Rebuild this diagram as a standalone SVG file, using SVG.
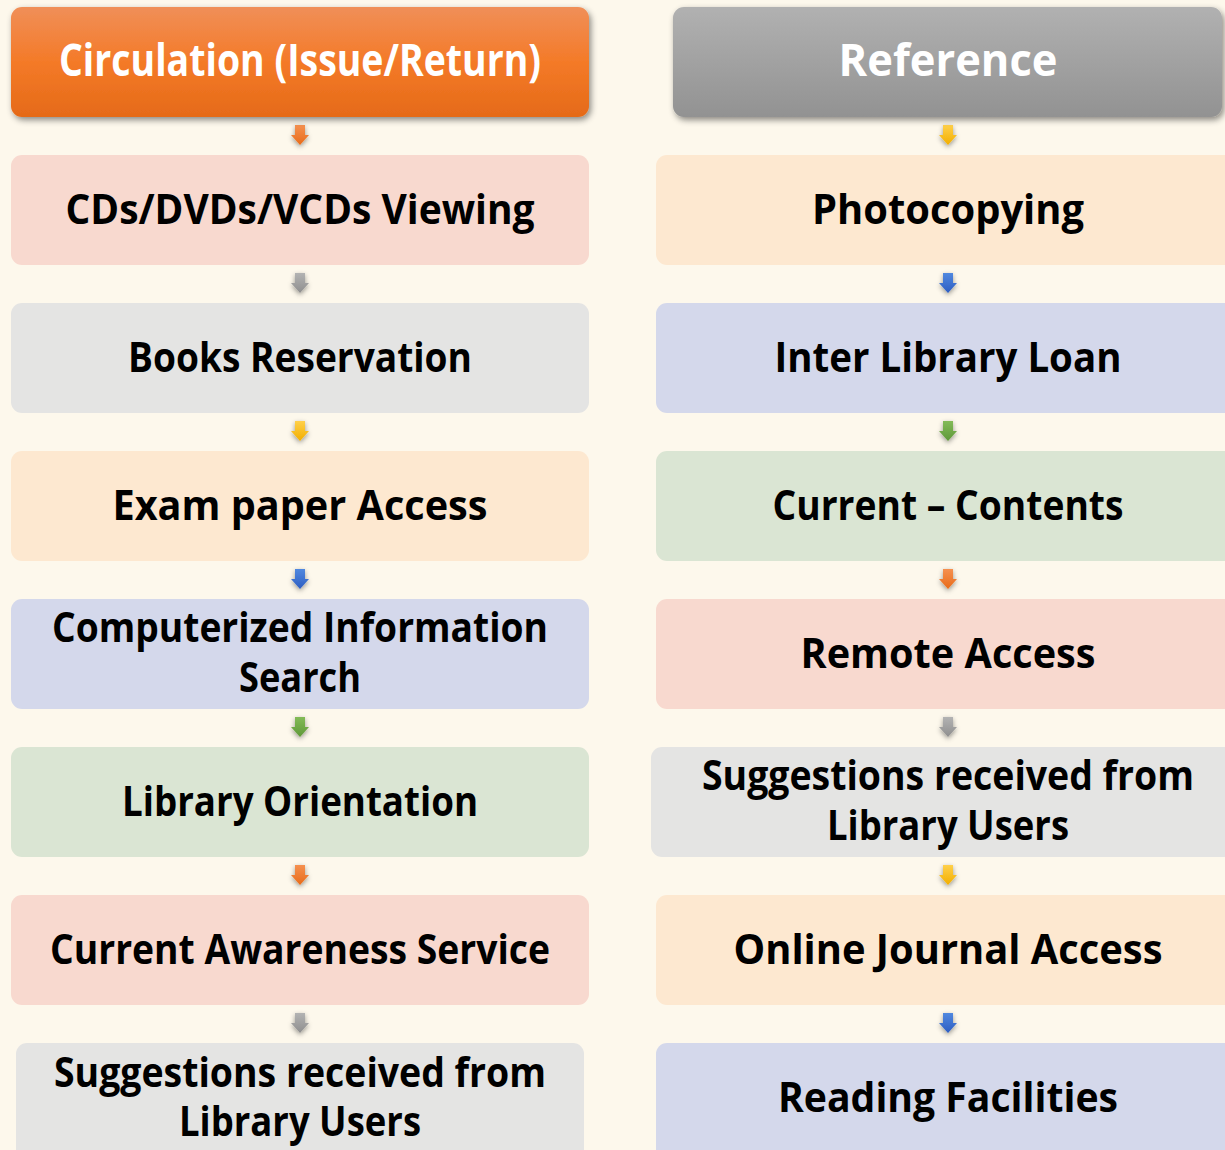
<svg xmlns="http://www.w3.org/2000/svg" width="1225" height="1150" viewBox="0 0 1225 1150">
<defs>
<linearGradient id="gOrange" x1="0" y1="0" x2="0" y2="1"><stop offset="0" stop-color="#F08F58"/><stop offset="0.5" stop-color="#F47A28"/><stop offset="1" stop-color="#E56A18"/></linearGradient>
<linearGradient id="gGrey" x1="0" y1="0" x2="0" y2="1"><stop offset="0" stop-color="#B1B1B1"/><stop offset="1" stop-color="#929292"/></linearGradient>
<linearGradient id="aOrange" x1="0" y1="0" x2="0" y2="1"><stop offset="0" stop-color="#F5904F"/><stop offset="1" stop-color="#E86B1A"/></linearGradient>
<linearGradient id="aGrey" x1="0" y1="0" x2="0" y2="1"><stop offset="0" stop-color="#B3B3B3"/><stop offset="1" stop-color="#8E8E8E"/></linearGradient>
<linearGradient id="aGold" x1="0" y1="0" x2="0" y2="1"><stop offset="0" stop-color="#FFD04A"/><stop offset="1" stop-color="#F2AE00"/></linearGradient>
<linearGradient id="aBlue" x1="0" y1="0" x2="0" y2="1"><stop offset="0" stop-color="#5088DF"/><stop offset="1" stop-color="#2C5DC2"/></linearGradient>
<linearGradient id="aGreen" x1="0" y1="0" x2="0" y2="1"><stop offset="0" stop-color="#83BB58"/><stop offset="1" stop-color="#5E9838"/></linearGradient>
<filter id="sh" x="-10%" y="-20%" width="125%" height="150%"><feDropShadow dx="2" dy="3" stdDeviation="3" flood-color="#000" flood-opacity="0.45"/></filter>
<filter id="ash" x="-100%" y="-50%" width="300%" height="220%"><feDropShadow dx="0" dy="2" stdDeviation="2.5" flood-color="#000" flood-opacity="0.4"/></filter>
<path id="arr" d="M-5,0 H5 V10 H9 L0,20 L-9,10 H-5 Z"/>
</defs>
<style>
.t{font-family:"Open Sans","Noto Sans","DejaVu Sans",sans-serif;font-weight:bold;font-size:41px;fill:#000;text-anchor:middle}
.h{font-family:"Open Sans","Noto Sans","DejaVu Sans",sans-serif;font-weight:bold;font-size:45px;fill:#fff;text-anchor:middle}
.pink{fill:#F8D9CF}.grey{fill:#E4E4E3}.peach{fill:#FDE8D0}.lav{fill:#D4D8EB}.green{fill:#DAE5D3}
</style>
<rect width="1225" height="1150" fill="#FDF8EC"/>

<g id="connectors">
<use href="#arr" x="300" y="125" fill="url(#aOrange)" filter="url(#ash)"/>
<use href="#arr" x="300" y="273" fill="url(#aGrey)" filter="url(#ash)"/>
<use href="#arr" x="300" y="421" fill="url(#aGold)" filter="url(#ash)"/>
<use href="#arr" x="300" y="569" fill="url(#aBlue)" filter="url(#ash)"/>
<use href="#arr" x="300" y="717" fill="url(#aGreen)" filter="url(#ash)"/>
<use href="#arr" x="300" y="865" fill="url(#aOrange)" filter="url(#ash)"/>
<use href="#arr" x="300" y="1013" fill="url(#aGrey)" filter="url(#ash)"/>
<use href="#arr" x="948" y="125" fill="url(#aGold)" filter="url(#ash)"/>
<use href="#arr" x="948" y="273" fill="url(#aBlue)" filter="url(#ash)"/>
<use href="#arr" x="948" y="421" fill="url(#aGreen)" filter="url(#ash)"/>
<use href="#arr" x="948" y="569" fill="url(#aOrange)" filter="url(#ash)"/>
<use href="#arr" x="948" y="717" fill="url(#aGrey)" filter="url(#ash)"/>
<use href="#arr" x="948" y="865" fill="url(#aGold)" filter="url(#ash)"/>
<use href="#arr" x="948" y="1013" fill="url(#aBlue)" filter="url(#ash)"/>
</g>

<g id="circulation">
<rect x="11" y="7" width="578" height="110" rx="11" fill="url(#gOrange)" filter="url(#sh)"/>
<text class="h" x="300" y="76" textLength="482" lengthAdjust="spacingAndGlyphs">Circulation (Issue/Return)</text>
</g>
<g id="cds">
<rect class="pink" x="11" y="155" width="578" height="110" rx="11"/>
<text class="t" x="300" y="224" textLength="469" lengthAdjust="spacingAndGlyphs">CDs/DVDs/VCDs Viewing</text>
</g>
<g id="books-reservation">
<rect class="grey" x="11" y="303" width="578" height="110" rx="11"/>
<text class="t" x="300" y="372" textLength="344" lengthAdjust="spacingAndGlyphs">Books Reservation</text>
</g>
<g id="exam-paper">
<rect class="peach" x="11" y="451" width="578" height="110" rx="11"/>
<text class="t" x="300" y="520" textLength="375" lengthAdjust="spacingAndGlyphs">Exam paper Access</text>
</g>
<g id="computerized">
<rect class="lav" x="11" y="599" width="578" height="110" rx="11"/>
<text class="t" x="300" y="642" textLength="496" lengthAdjust="spacingAndGlyphs">Computerized Information</text>
<text class="t" x="300" y="692" textLength="122" lengthAdjust="spacingAndGlyphs">Search</text>
</g>
<g id="orientation">
<rect class="green" x="11" y="747" width="578" height="110" rx="11"/>
<text class="t" x="300" y="816" textLength="356" lengthAdjust="spacingAndGlyphs">Library Orientation</text>
</g>
<g id="awareness">
<rect class="pink" x="11" y="895" width="578" height="110" rx="11"/>
<text class="t" x="300" y="964" textLength="500" lengthAdjust="spacingAndGlyphs">Current Awareness Service</text>
</g>
<g id="suggestions-left">
<path class="grey" d="M27,1043 H573 A11,11 0 0 1 584,1054 V1150 H16 V1054 A11,11 0 0 1 27,1043 Z"/>
<text class="t" x="300" y="1087" textLength="492" lengthAdjust="spacingAndGlyphs">Suggestions received from</text>
<text class="t" x="300" y="1136" textLength="242" lengthAdjust="spacingAndGlyphs">Library Users</text>
</g>

<g id="reference">
<rect x="673" y="7" width="549" height="110" rx="11" fill="url(#gGrey)" filter="url(#sh)"/>
<text class="h" x="948" y="76" textLength="219" lengthAdjust="spacingAndGlyphs">Reference</text>
</g>
<g id="photocopying">
<path class="peach" d="M667,155 H1225 V265 H667 A11,11 0 0 1 656,254 V166 A11,11 0 0 1 667,155 Z"/>
<text class="t" x="948" y="224" textLength="272" lengthAdjust="spacingAndGlyphs">Photocopying</text>
</g>
<g id="inter-library-loan">
<path class="lav" d="M667,303 H1225 V413 H667 A11,11 0 0 1 656,402 V314 A11,11 0 0 1 667,303 Z"/>
<text class="t" x="948" y="372" textLength="347" lengthAdjust="spacingAndGlyphs">Inter Library Loan</text>
</g>
<g id="current-contents">
<path class="green" d="M667,451 H1225 V561 H667 A11,11 0 0 1 656,550 V462 A11,11 0 0 1 667,451 Z"/>
<text class="t" x="948" y="520" textLength="351" lengthAdjust="spacingAndGlyphs">Current – Contents</text>
</g>
<g id="remote-access">
<path class="pink" d="M667,599 H1225 V709 H667 A11,11 0 0 1 656,698 V610 A11,11 0 0 1 667,599 Z"/>
<text class="t" x="948" y="668" textLength="295" lengthAdjust="spacingAndGlyphs">Remote Access</text>
</g>
<g id="suggestions-right">
<path class="grey" d="M662,747 H1225 V857 H662 A11,11 0 0 1 651,846 V758 A11,11 0 0 1 662,747 Z"/>
<text class="t" x="948" y="790" textLength="492" lengthAdjust="spacingAndGlyphs">Suggestions received from</text>
<text class="t" x="948" y="840" textLength="242" lengthAdjust="spacingAndGlyphs">Library Users</text>
</g>
<g id="online-journal">
<path class="peach" d="M667,895 H1225 V1005 H667 A11,11 0 0 1 656,994 V906 A11,11 0 0 1 667,895 Z"/>
<text class="t" x="948" y="964" textLength="429" lengthAdjust="spacingAndGlyphs">Online Journal Access</text>
</g>
<g id="reading-facilities">
<path class="lav" d="M667,1043 H1225 V1150 H656 V1054 A11,11 0 0 1 667,1043 Z"/>
<text class="t" x="948" y="1112" textLength="340" lengthAdjust="spacingAndGlyphs">Reading Facilities</text>
</g>
</svg>
